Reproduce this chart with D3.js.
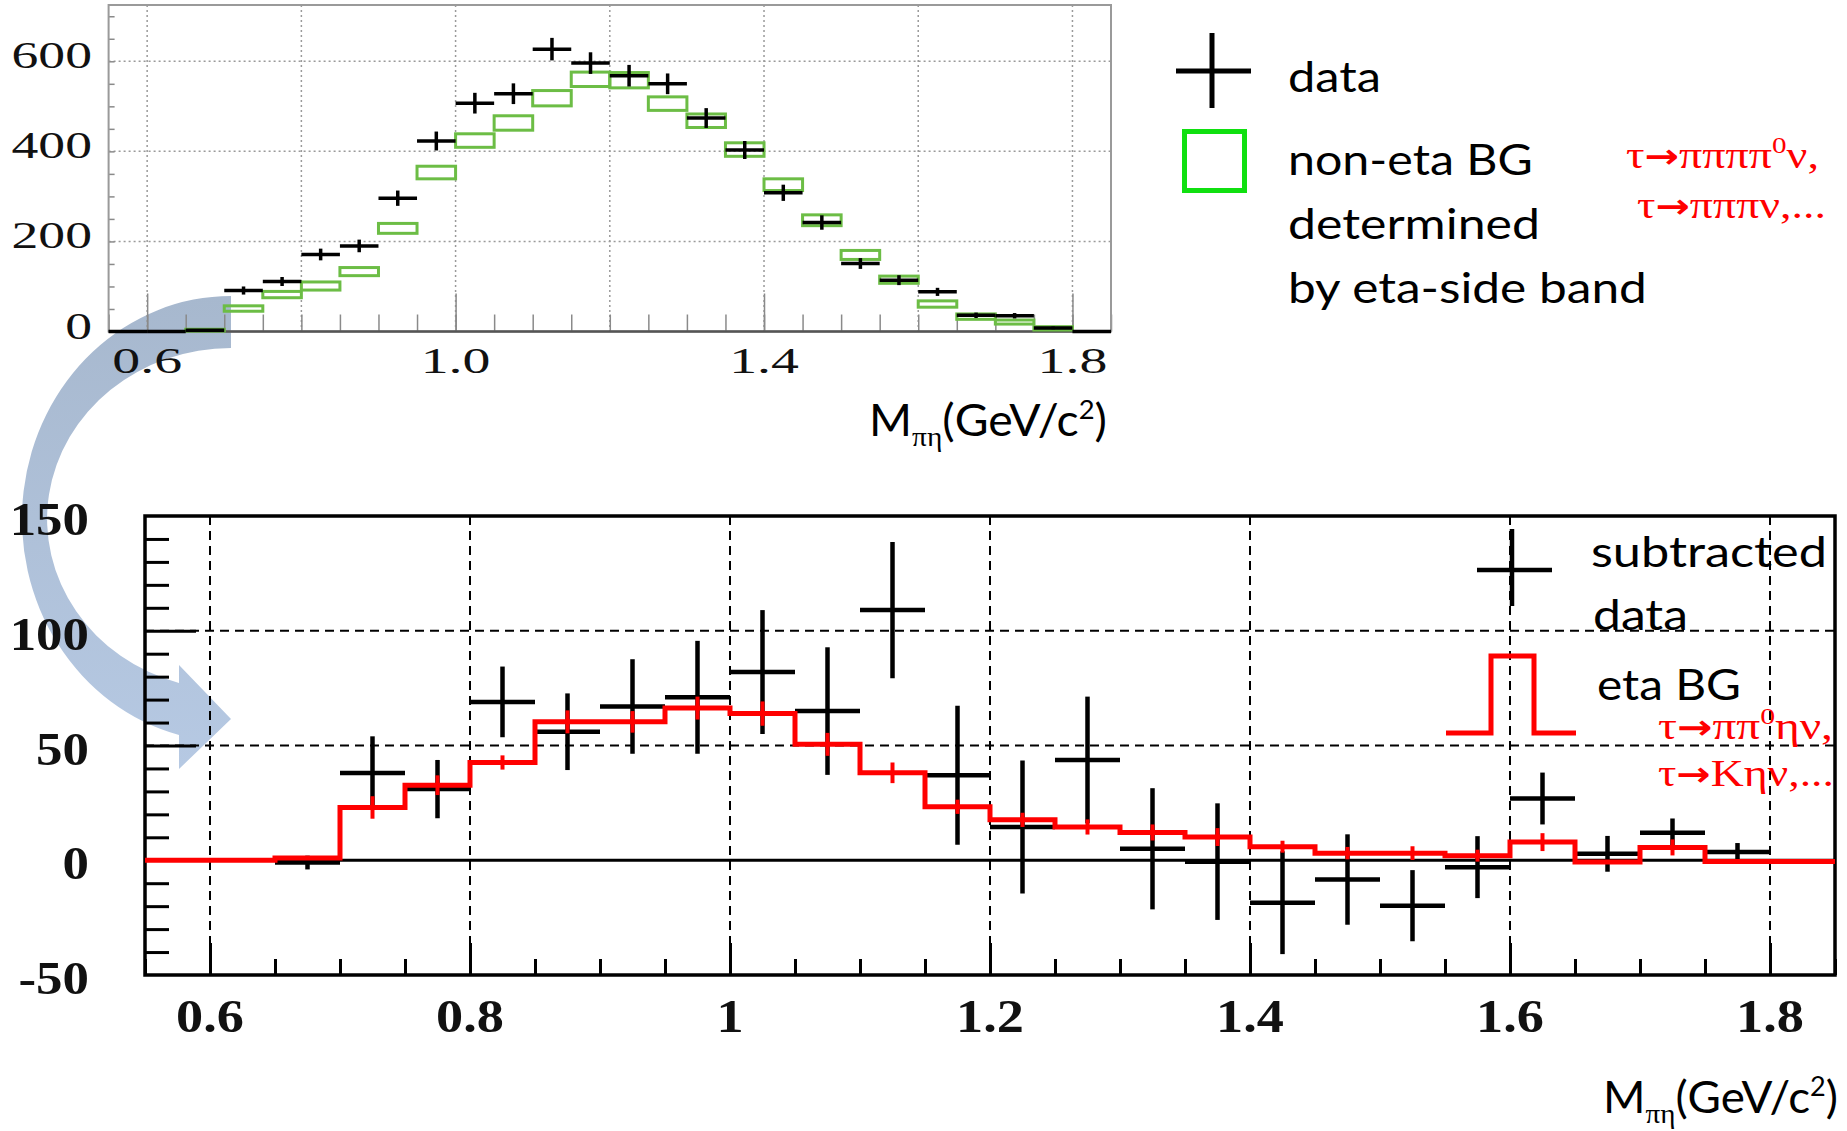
<!DOCTYPE html>
<html><head><meta charset="utf-8">
<script src="https://cdn.jsdelivr.net/npm/d3@7"></script>
<style>
html,body{margin:0;padding:0;background:#fff;}
svg{display:block;}
</style></head><body>
<svg id="c" width="1847" height="1131"></svg>
<script>
// ---------------- DATA ----------------
const binCenters = [0.575,0.625,0.675,0.725,0.775,0.825,0.875,0.925,0.975,1.025,1.075,1.125,1.175,1.225,1.275,1.325,1.375,1.425,1.475,1.525,1.575,1.625,1.675,1.725,1.775,1.825];
const binWidth = 0.05;
// top panel: data and non-eta BG (eta side band)
const topData    = [0,0,3,91,111,171,190,296,423,507,528,627,596,568,550,474,403,308,242,151,114,88,36,35,8,0];
const topDataErr = [0,0,2,9,10,13,14,17,21,23,23,25,24,24,23,22,20,18,16,12,11,9,6,6,3,0];
const topBG      = [null,null,3,51,82,101,133,229,353,424,463,518,560,558,506,468,404,326,247,170,115,61,33,21,7,null];
const topBGErr   = [0,0,2,6,7,9,9,11,14,15,16,17,16,17,15,15,15,13,12,10,8,7,6,4.5,3.7,0];
// bottom panel: subtracted data and eta BG
const subData    = [null,null,-1,38,31,69,56,67,71,82,65,109,37,14.5,43.7,5,-0.6,-18.5,-8.4,-19.8,-3,26.9,2.8,12,3.6,null];
const subErr     = [0,0,3,16,12.7,15.4,16.7,20.6,24.6,27,27.8,29.7,30.3,29,27.6,26.4,25.4,22.4,19.7,15.5,13.5,11.3,7.8,6.2,3.9,0];
const etaBG      = [0,0,1,23,32.7,42.6,60.3,60.3,66.3,63.9,50.5,38.1,23.3,17.6,14.5,12.1,10.1,5.9,3.1,3.1,2,7.9,-0.8,5.6,-0.5,-0.5];
const etaBGErr   = [0,0,0,4.9,4.3,3.1,5,4.7,5,5.3,5,4.5,3.1,3.1,3.3,3.5,3.9,2.6,2.7,3,2.6,3.9,0,3.5,0,0];
// tick labels
const topXTickLabels = ["0.6","1.0","1.4","1.8"];
const topXGrid = [0.6,0.8,1.0,1.2,1.4,1.6,1.8];
const topYTickLabels = [0,200,400,600];
const botXTickLabels = [0.6,0.8,1,1.2,1.4,1.6,1.8];
const botYTickLabels = [-50,0,50,100,150];
const botYGrid = [50,100];

// ---------------- DRAW ----------------
const svg = d3.select("#c");
const defs = svg.append("defs");
const grad = defs.append("linearGradient").attr("id","arrowGrad").attr("x1",0).attr("y1",0).attr("x2",0).attr("y2",1);
grad.append("stop").attr("offset","0%").attr("stop-color","#a7b8ce");
grad.append("stop").attr("offset","100%").attr("stop-color","#b6c9e3");

// decorative curved arrow (under everything)
svg.append("path")
  .attr("d","M231,296 A209,223 0 0 0 179,735 L179,769 L231,719 L179,665 L179,683 A184,171 0 0 1 231,348 Z")
  .attr("fill","url(#arrowGrad)");

function fitText(parent, x, y, targetW, opts, parts) {
  const t = parent.append("text")
    .attr("font-family", opts.font).attr("font-size", opts.size)
    .attr("fill", opts.fill || "#000").attr("font-weight", opts.weight || "normal");
  parts.forEach(p => {
    const ts = t.append("tspan").text(p.t);
    if (p.font) ts.attr("font-family", p.font);
    if (p.size) ts.attr("font-size", p.size);
    if (p.weight) ts.attr("font-weight", p.weight);
    if (p.dy) ts.attr("dy", p.dy);
  });
  const bb = t.node().getBBox();
  const s = targetW / bb.width;
  t.attr("transform", `translate(${x - bb.x * s},${y}) scale(${s},1)`);
  return t;
}
function tickLabel(parent, x, y, str, opts) {
  parent.append("text")
    .attr("transform", `translate(${x},${y}) scale(${opts.sx},1)`)
    .attr("text-anchor", opts.anchor)
    .attr("font-family", "'Liberation Serif','Times New Roman',serif")
    .attr("font-size", opts.size).attr("font-weight", opts.weight || "normal")
    .attr("fill", "#111").text(str);
}

// ===== TOP PANEL =====
const xT = d3.scaleLinear().domain([0.55,1.85]).range([108.6,1111]);
const yT = d3.scaleLinear().domain([0,725]).range([331.5,5]);
const gT = svg.append("g");

// grid
gT.selectAll("line.gx").data(topXGrid).join("line")
  .attr("x1", d=>xT(d)).attr("x2", d=>xT(d)).attr("y1", yT(725)).attr("y2", yT(0))
  .attr("stroke","#9a9a9a").attr("stroke-width",1.5).attr("stroke-dasharray","2,3");
gT.selectAll("line.gy").data(topYTickLabels.filter(d=>d>0)).join("line")
  .attr("x1", xT(0.55)).attr("x2", xT(1.85)).attr("y1", d=>yT(d)).attr("y2", d=>yT(d))
  .attr("stroke","#9a9a9a").attr("stroke-width",1.5).attr("stroke-dasharray","2,3");

// ticks via axes
const topMinorX = d3.range(0.55, 1.8501, 0.05);
const axMinT = gT.append("g").attr("transform",`translate(0,${yT(0)})`)
  .call(d3.axisBottom(xT).tickValues(topMinorX).tickSize(-17).tickFormat(""));
const axMajT = gT.append("g").attr("transform",`translate(0,${yT(0)})`)
  .call(d3.axisBottom(xT).tickValues(topXTickLabels.map(Number)).tickSize(-38).tickFormat(""));
const axYT = gT.append("g").attr("transform",`translate(${xT(0.55)},0)`)
  .call(d3.axisLeft(yT).tickValues(d3.range(50, 701, 50)).tickSize(-6).tickFormat(""));
[axMinT, axMajT, axYT].forEach(a => {
  a.select(".domain").remove();
  a.selectAll("line").attr("stroke","#8a8a8a").attr("stroke-width",1.5);
});

// frame
gT.append("rect").attr("x", xT(0.55)).attr("y", yT(725))
  .attr("width", xT(1.85)-xT(0.55)).attr("height", yT(0)-yT(725))
  .attr("fill","none").attr("stroke","#9a9a9a").attr("stroke-width",2);
gT.append("line").attr("x1", xT(0.55)).attr("x2", xT(1.85)).attr("y1", yT(0)).attr("y2", yT(0))
  .attr("stroke","#555").attr("stroke-width",2.5);

// green BG boxes
gT.selectAll("rect.bg").data(binCenters.map((c,i)=>({c, v:topBG[i], e:topBGErr[i]})).filter(d=>d.v!==null))
  .join("rect")
  .attr("x", d=>xT(d.c-binWidth/2)).attr("width", d=>xT(d.c+binWidth/2)-xT(d.c-binWidth/2))
  .attr("y", d=>yT(d.v+d.e)).attr("height", d=>yT(d.v-d.e)-yT(d.v+d.e))
  .attr("fill","none").attr("stroke","#6cbd45").attr("stroke-width",3);

// black data crosses
const topPts = binCenters.map((c,i)=>({c, v:topData[i], e:topDataErr[i]}));
gT.selectAll("line.dh").data(topPts).join("line")
  .attr("x1", d=>xT(d.c-binWidth/2)).attr("x2", d=>xT(d.c+binWidth/2))
  .attr("y1", d=>yT(d.v)).attr("y2", d=>yT(d.v))
  .attr("stroke","#000").attr("stroke-width",3.5);
gT.selectAll("line.dv").data(topPts.filter(d=>d.e>0)).join("line")
  .attr("x1", d=>xT(d.c)).attr("x2", d=>xT(d.c))
  .attr("y1", d=>yT(d.v-d.e)).attr("y2", d=>yT(d.v+d.e))
  .attr("stroke","#000").attr("stroke-width",3.5);

// tick labels
topYTickLabels.forEach(v => tickLabel(gT, 92, yT(v)+7, String(v), {sx:1.45, anchor:"end", size:37}));
topXTickLabels.forEach(v => tickLabel(gT, xT(+v), 373, v, {sx:1.55, anchor:"middle", size:36}));

// x title
const sansFont = "Lato, 'Open Sans', sans-serif";
const serifFont = "'Liberation Serif','Times New Roman',serif";
const arrowFont = "'DejaVu Sans', sans-serif";
fitText(svg, 869, 436, 238, {font:sansFont, size:44}, [
  {t:"M"}, {t:"πη", font:serifFont, size:28, dy:10}, {t:"(GeV/c", dy:-10}, {t:"2", size:26, dy:-17}, {t:")", dy:17}
]);

// top legend
svg.append("line").attr("x1",1212).attr("x2",1212).attr("y1",33).attr("y2",108).attr("stroke","#000").attr("stroke-width",5);
svg.append("line").attr("x1",1176).attr("x2",1251).attr("y1",71).attr("y2",71).attr("stroke","#000").attr("stroke-width",5);
svg.append("rect").attr("x",1184.5).attr("y",131.5).attr("width",60).attr("height",59)
  .attr("fill","none").attr("stroke","#10e010").attr("stroke-width",5);
fitText(svg, 1288, 92, 93, {font:sansFont, size:42}, [{t:"data"}]);
fitText(svg, 1288, 175, 245, {font:sansFont, size:42}, [{t:"non-eta BG"}]);
fitText(svg, 1288, 239, 252, {font:sansFont, size:42}, [{t:"determined"}]);
fitText(svg, 1288, 303, 359, {font:sansFont, size:42}, [{t:"by eta-side band"}]);
fitText(svg, 1626, 168, 193, {font:serifFont, size:38, fill:"#ff0000"}, [
  {t:"τ"}, {t:"→", font:arrowFont, weight:"bold", size:34}, {t:"ππππ"}, {t:"0", size:24, dy:-15}, {t:"ν,", dy:15}
]);
fitText(svg, 1637, 218, 189, {font:serifFont, size:38, fill:"#ff0000"}, [
  {t:"τ"}, {t:"→", font:arrowFont, weight:"bold", size:34}, {t:"πππν,..."}
]);

// ===== BOTTOM PANEL =====
const xB = d3.scaleLinear().domain([0.55,1.85]).range([145,1835]);
const yB = d3.scaleLinear().domain([-50,150]).range([975,516]);
const gB = svg.append("g");

// dashed grid
gB.selectAll("line.gx").data(botXTickLabels).join("line")
  .attr("x1", d=>xB(d)).attr("x2", d=>xB(d)).attr("y1", yB(150)).attr("y2", yB(-50))
  .attr("stroke","#000").attr("stroke-width",2).attr("stroke-dasharray","9,6");
gB.selectAll("line.gy").data(botYGrid).join("line")
  .attr("x1", xB(0.55)).attr("x2", xB(1.85)).attr("y1", d=>yB(d)).attr("y2", d=>yB(d))
  .attr("stroke","#000").attr("stroke-width",2).attr("stroke-dasharray","9,6");

// ticks
const botMinorX = d3.range(0.55, 1.8501, 0.05);
const botMinorY = d3.range(-40, 141, 10).filter(v => v % 50 !== 0);
const aB1 = gB.append("g").attr("transform",`translate(0,${yB(-50)})`)
  .call(d3.axisBottom(xB).tickValues(botMinorX).tickSize(-16).tickFormat(""));
const aB2 = gB.append("g").attr("transform",`translate(0,${yB(-50)})`)
  .call(d3.axisBottom(xB).tickValues(botXTickLabels).tickSize(-32).tickFormat(""));
const aB3 = gB.append("g").attr("transform",`translate(${xB(0.55)},0)`)
  .call(d3.axisLeft(yB).tickValues(botMinorY).tickSize(-24).tickFormat(""));
const aB4 = gB.append("g").attr("transform",`translate(${xB(0.55)},0)`)
  .call(d3.axisLeft(yB).tickValues(botYGrid).tickSize(-51).tickFormat(""));
[aB1,aB2,aB3,aB4].forEach(a => {
  a.select(".domain").remove();
  a.selectAll("line").attr("stroke","#000").attr("stroke-width",3);
});

// zero line and frame
gB.append("line").attr("x1", xB(0.55)).attr("x2", xB(1.85)).attr("y1", yB(0)).attr("y2", yB(0))
  .attr("stroke","#000").attr("stroke-width",3);
gB.append("rect").attr("x", xB(0.55)).attr("y", yB(150))
  .attr("width", xB(1.85)-xB(0.55)).attr("height", yB(-50)-yB(150))
  .attr("fill","none").attr("stroke","#000").attr("stroke-width",3.5);

// black subtracted data
const subPts = binCenters.map((c,i)=>({c, v:subData[i], e:subErr[i]})).filter(d=>d.v!==null);
gB.selectAll("line.dh").data(subPts).join("line")
  .attr("x1", d=>xB(d.c-binWidth/2)).attr("x2", d=>xB(d.c+binWidth/2))
  .attr("y1", d=>yB(d.v)).attr("y2", d=>yB(d.v))
  .attr("stroke","#000").attr("stroke-width",4.5);
gB.selectAll("line.dv").data(subPts).join("line")
  .attr("x1", d=>xB(d.c)).attr("x2", d=>xB(d.c))
  .attr("y1", d=>yB(d.v-d.e)).attr("y2", d=>yB(d.v+d.e))
  .attr("stroke","#000").attr("stroke-width",4.5);

// red eta BG histogram
const stepPts = binCenters.map((c,i)=>[c-binWidth/2, etaBG[i]]);
stepPts.push([binCenters[binCenters.length-1]+binWidth/2, etaBG[etaBG.length-1]]);
gB.append("path").datum(stepPts)
  .attr("d", d3.line().x(d=>xB(d[0])).y(d=>yB(d[1])).curve(d3.curveStepAfter))
  .attr("fill","none").attr("stroke","#ff0000").attr("stroke-width",5);
gB.selectAll("line.re").data(binCenters.map((c,i)=>({c, v:etaBG[i], e:etaBGErr[i]})).filter(d=>d.e>0)).join("line")
  .attr("x1", d=>xB(d.c)).attr("x2", d=>xB(d.c))
  .attr("y1", d=>yB(d.v-d.e)).attr("y2", d=>yB(d.v+d.e))
  .attr("stroke","#ff0000").attr("stroke-width",4);

// tick labels
botYTickLabels.forEach(v => tickLabel(gB, 89, yB(v)+19, String(v), {sx:1.15, anchor:"end", size:46, weight:"bold"}));
botXTickLabels.forEach(v => tickLabel(gB, xB(v), 1032, String(v), {sx:1.18, anchor:"middle", size:46, weight:"bold"}));

// x title
fitText(svg, 1603, 1113, 235, {font:sansFont, size:44}, [
  {t:"M"}, {t:"πη", font:serifFont, size:28, dy:10}, {t:"(GeV/c", dy:-10}, {t:"2", size:26, dy:-17}, {t:")", dy:17}
]);

// bottom legend
svg.append("line").attr("x1",1512).attr("x2",1512).attr("y1",529).attr("y2",606).attr("stroke","#000").attr("stroke-width",4.5);
svg.append("line").attr("x1",1477).attr("x2",1552).attr("y1",570).attr("y2",570).attr("stroke","#000").attr("stroke-width",4.5);
svg.append("path").attr("d","M1446,733 L1491,733 L1491,656 L1534,656 L1534,733 L1576,733")
  .attr("fill","none").attr("stroke","#ff0000").attr("stroke-width",5);
fitText(svg, 1591, 567, 236, {font:sansFont, size:42}, [{t:"subtracted"}]);
fitText(svg, 1593, 630, 95, {font:sansFont, size:42}, [{t:"data"}]);
fitText(svg, 1597, 700, 144, {font:sansFont, size:42}, [{t:"eta BG"}]);
fitText(svg, 1658, 739, 175, {font:serifFont, size:38, fill:"#ff0000"}, [
  {t:"τ"}, {t:"→", font:arrowFont, weight:"bold", size:34}, {t:"ππ"}, {t:"0", size:24, dy:-15}, {t:"ην,", dy:15}
]);
fitText(svg, 1658, 786, 176, {font:serifFont, size:38, fill:"#ff0000"}, [
  {t:"τ"}, {t:"→", font:arrowFont, weight:"bold", size:34}, {t:"Kην,..."}
]);
</script>
</body></html>
